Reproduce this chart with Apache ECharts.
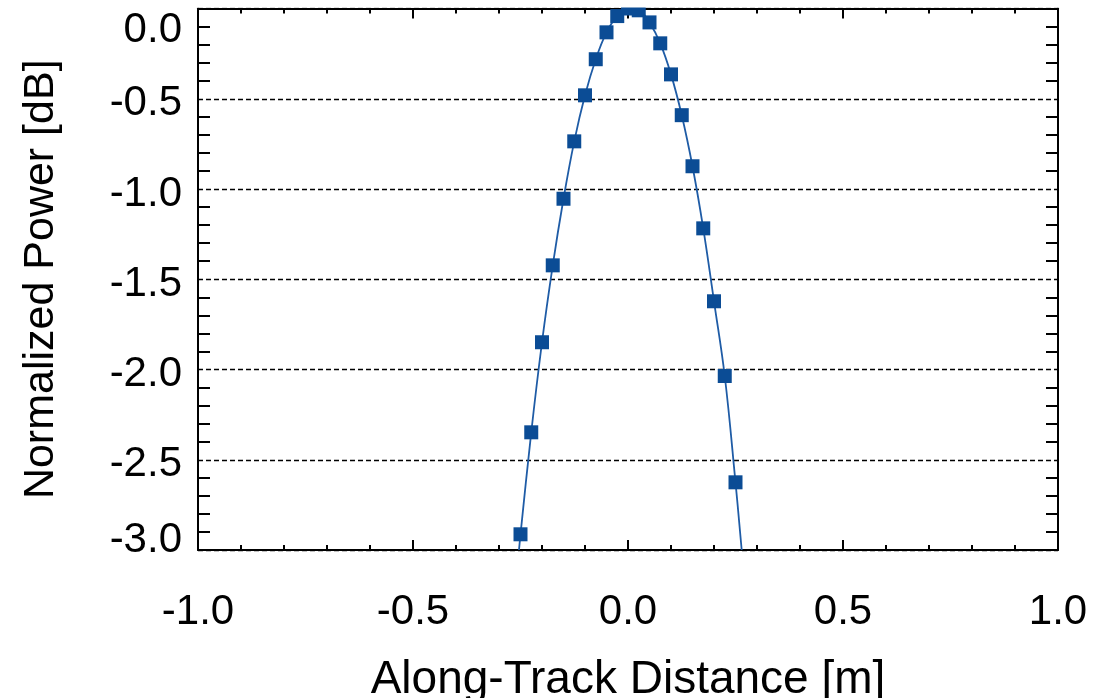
<!DOCTYPE html>
<html><head><meta charset="utf-8">
<script src="https://cdn.jsdelivr.net/npm/echarts@6/dist/echarts.min.js"></script>
<style>html,body{margin:0;padding:0;background:#fff}#c{width:1108px;height:698px}</style>
</head><body><div id="c"></div>
<script>
// Measured samples (markers)
const distance = [-0.25,-0.225,-0.2,-0.175,-0.15,-0.125,-0.1,-0.075,-0.05,-0.025,0,0.025,0.05,0.075,0.1,0.125,0.15,0.175,0.2,0.225,0.25];
const power    = [-2.913,-2.348,-1.849,-1.423,-1.054,-0.736,-0.481,-0.281,-0.132,-0.042,0.0,-0.01,-0.077,-0.193,-0.365,-0.591,-0.874,-1.218,-1.622,-2.036,-2.625];
// Fitted curve (runs to the bottom axis)
const fitDistance = [-0.2535,-0.25,-0.225,-0.2,-0.175,-0.15,-0.125,-0.1,-0.075,-0.05,-0.025,0,0.025,0.05,0.075,0.1,0.125,0.15,0.175,0.2,0.225,0.25,0.2644];
const fitPower    = [-3.0,-2.913,-2.348,-1.849,-1.423,-1.054,-0.736,-0.481,-0.281,-0.132,-0.042,-0.002,-0.01,-0.077,-0.193,-0.365,-0.591,-0.874,-1.218,-1.622,-2.036,-2.625,-3.0];
const xRange = [-1.0, 1.0];
const yRange = [-3.0, 0.0];

const FONT = "'Liberation Sans', Arial, Helvetica, sans-serif";
const fmt = v => (Math.abs(v) < 1e-9 ? 0 : v).toFixed(1);

const chart = echarts.init(document.getElementById('c'), null, {renderer:'canvas'});
const axisLine = {show:true, onZero:false, lineStyle:{color:'#000', width:2}};
const xCommon = {
  type:'value', min:xRange[0], max:xRange[1], interval:0.5,
  axisLine: axisLine,
  axisTick:{show:true, inside:true, length:10, lineStyle:{color:'#000', width:2}},
  minorTick:{show:true, splitNumber:5, length:5, lineStyle:{color:'#000', width:2}},
  splitLine:{show:false}
};
const yCommon = {
  type:'value', min:yRange[0], max:yRange[1], interval:0.5,
  axisLine: axisLine,
  axisTick:{show:false, inside:true},
  minorTick:{show:true, splitNumber:5, length:12, lineStyle:{color:'#000', width:2}},
  splitLine:{show:false}
};

const pts = distance.map((d,i)=>[d, power[i]]);
const fit = fitDistance.map((d,i)=>[d, fitPower[i]]);

chart.setOption({
  backgroundColor:'#fff',
  animation:false,
  grid:{left:198, right:50, top:8.5, bottom:148, containLabel:false, outerBoundsMode:'none'},
  xAxis:[
    Object.assign({}, xCommon, {
      position:'bottom',
      name:'Along-Track Distance [m]', nameLocation:'middle', nameGap:107,
      nameTextStyle:{fontFamily:FONT, fontSize:46, color:'#000'},
      axisLabel:{show:true, margin:41, fontFamily:FONT, fontSize:42, color:'#000', formatter:fmt}
    }),
    Object.assign({}, xCommon, {position:'top', axisLabel:{show:false}})
  ],
  yAxis:[
    Object.assign({}, yCommon, {
      position:'left',
      name:'Normalized Power [dB]', nameLocation:'middle', nameGap:135,
      nameTextStyle:{fontFamily:FONT, fontSize:43, color:'#000'},
      splitLine:{show:true, lineStyle:{color:'#000', width:1.3, type:[5,3]}},
      axisLabel:{show:true, margin:16, fontFamily:FONT, fontSize:42, color:'#000',
        showMinLabel:true, showMaxLabel:true,
        formatter:function(v){
          const s = fmt(v);
          if (Math.abs(v) < 1e-9) return '{t|'+s+'}';
          if (Math.abs(v+3) < 1e-9) return '{b|'+s+'}';
          return '{n|'+s+'}';
        },
        rich:{
          t:{fontFamily:FONT, fontSize:42, color:'#000', padding:[44,0,0,0]},
          b:{fontFamily:FONT, fontSize:42, color:'#000', padding:[0,0,19,0]},
          n:{fontFamily:FONT, fontSize:42, color:'#000', padding:[10,0,0,0]}
        }
      }
    }),
    Object.assign({}, yCommon, {position:'right', axisLabel:{show:false}})
  ],
  series:[
    {type:'line', data:fit, smooth:0.4, showSymbol:false, symbol:'none',
     lineStyle:{color:'#1f5ca6', width:1.8}, z:3},
    {type:'scatter', data:pts, symbol:'rect', symbolSize:14,
     itemStyle:{color:'#0b4c95', opacity:1}, z:4}
  ],
  graphic:[
    {type:'rect', shape:{x:180, y:0, width:900, height:7.4}, style:{fill:'#fff'}, z:100}
  ]
});
</script>
</body></html>
